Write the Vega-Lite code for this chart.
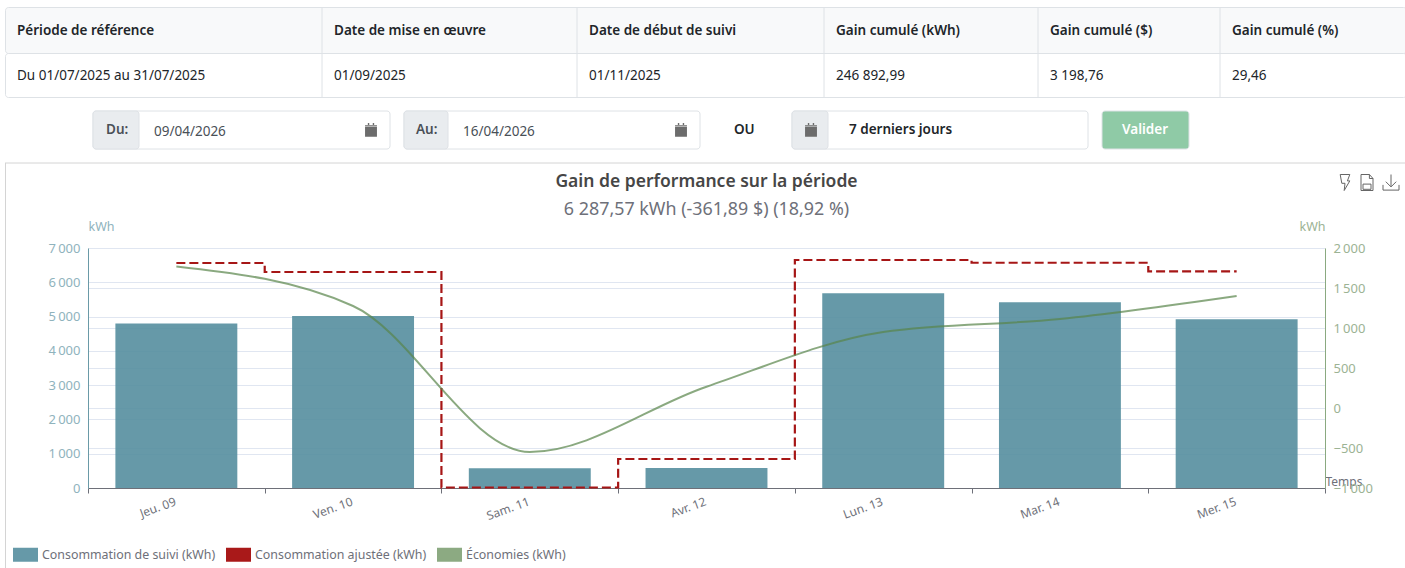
{
"$schema":"https://vega.github.io/schema/vega-lite/v6.json",
"padding":{"left":4,"top":6,"right":0,"bottom":0},
"background":"#ffffff",
"bounds":"flush",
"spacing":0,
"resolve":{"scale":{"color":"independent","shape":"independent"}},
"config":{"view":{"stroke":null},"font":"Noto Sans","text":{"font":"Noto Sans"}},
"datasets":{
"table":[
{"col":1,"header":"Période de référence","value":"Du 01/07/2025 au 31/07/2025"},
{"col":2,"header":"Date de mise en œuvre","value":"01/09/2025"},
{"col":3,"header":"Date de début de suivi","value":"01/11/2025"},
{"col":4,"header":"Gain cumulé (kWh)","value":"246 892,99"},
{"col":5,"header":"Gain cumulé ($)","value":"3 198,76"},
{"col":6,"header":"Gain cumulé (%)","value":"29,46"}],
"days":[
{"day":"Jeu. 09","suivi":4798,"ajustee":6562,"economies":1769},
{"day":"Ven. 10","suivi":5017,"ajustee":6300,"economies":1275},
{"day":"Sam. 11","suivi":575,"ajustee":15,"economies":-550},
{"day":"Avr. 12","suivi":583,"ajustee":846,"economies":266},
{"day":"Lun. 13","suivi":5680,"ajustee":6650,"economies":950},
{"day":"Mar. 14","suivi":5415,"ajustee":6570,"economies":1112},
{"day":"Mer. 15","suivi":4920,"ajustee":6320,"economies":1400}],
"one":[{"n":1}]
},
"vconcat":[
 {"width":1401,"height":46,"view":{"fill":"#f8f9fa","stroke":"#dee2e6","cornerRadius":3},"data":{"name":"table"},
  "layer":[
   {"transform":[{"filter":"datum.col > 1"}],"mark":{"type":"rule","color":"#dee2e6","xOffset":-12},
    "encoding":{"x":{"field":"col","type":"quantitative","axis":null,"scale":{"domain":[1,2,3,4,5,6],"range":[12,329,584,831,1045,1227]}}}},
   {"mark":{"type":"text","align":"left","fontSize":13.5,"fontWeight":600,"color":"#212529","font":"Noto Sans","dy":1},
    "encoding":{"x":{"field":"col","type":"quantitative","axis":null,"scale":{"domain":[1,2,3,4,5,6],"range":[12,329,584,831,1045,1227]}},"text":{"field":"header"}}}
  ]},
 {"width":1401,"height":44,"view":{"fill":"#ffffff","stroke":"#dee2e6","cornerRadius":3},"data":{"name":"table"},
  "layer":[
   {"transform":[{"filter":"datum.col > 1"}],"mark":{"type":"rule","color":"#dee2e6","xOffset":-12},
    "encoding":{"x":{"field":"col","type":"quantitative","axis":null,"scale":{"domain":[1,2,3,4,5,6],"range":[12,329,584,831,1045,1227]}}}},
   {"mark":{"type":"text","align":"left","fontSize":13.5,"color":"#212529","font":"Noto Sans","dy":1},
    "encoding":{"x":{"field":"col","type":"quantitative","axis":null,"scale":{"domain":[1,2,3,4,5,6],"range":[12,329,584,831,1045,1227]}},"text":{"field":"value"}}}
  ]},
{"width":1401,"height":66,
 "resolve":{"scale":{"color":"independent"}},
 "layer":[
  {"data":{"values":[
    {"kind":"box","from":0,"to":5},{"kind":"box","from":6,"to":11},{"kind":"box","from":13,"to":17},
    {"kind":"addon","from":0,"to":2},{"kind":"addon","from":6,"to":8},{"kind":"addon","from":13,"to":15},
    {"kind":"button","from":18,"to":20}]},
   "mark":{"type":"rect","cornerRadius":3,"stroke":"#dee2e6","strokeWidth":1},
   "encoding":{
    "x":{"field":"from","type":"quantitative","axis":null,"scale":{"domain":[0,1,2,3,4,5,6,7,8,9,10,11,12,13,14,15,16,17,18,19,20],"range":[88,101,134,149,366,385,399,411,443,458,676,695,729,787,806,823,844,1083,1097,1117,1184]}},
    "x2":{"field":"to"},
    "y":{"datum":0,"type":"quantitative","axis":null,"scale":{"domain":[0,1],"range":[52,14]}},
    "y2":{"datum":1},
    "color":{"field":"kind","type":"nominal","legend":null,"scale":{"domain":["box","addon","button"],"range":["#ffffff","#e9ecef","#8fcaa6"]}}}},
  {"data":{"values":[{"x":3,"t":"09/04/2026"},{"x":9,"t":"16/04/2026"}]},
   "mark":{"type":"text","align":"left","fontSize":13.5,"color":"#495057","dy":2},
   "encoding":{"x":{"field":"x","type":"quantitative"},"text":{"field":"t"}}},
  {"data":{"values":[{"x":1,"t":"Du:","k":"a"},{"x":7,"t":"Au:","k":"a"},{"x":12,"t":"OU","k":"b"},{"x":16,"t":"7 derniers jours","k":"b"},{"x":19,"t":"Valider","k":"c"}]},
   "mark":{"type":"text","align":"left","fontSize":13.5,"fontWeight":600},
   "encoding":{"x":{"field":"x","type":"quantitative"},"text":{"field":"t"},
    "color":{"field":"k","type":"nominal","legend":null,"scale":{"domain":["a","b","c"],"range":["#495057","#212529","#ffffff"]}}}},
  {"data":{"values":[{"x":4},{"x":10},{"x":14}]},
   "mark":{"type":"point","filled":true,"color":"#6c6c6c","opacity":1,"size":196,"shape":"M-0.85,-0.5H0.85V0.95H-0.85Z M-0.85,-0.7H-0.45V-1H-0.25V-0.7H0.25V-1H0.45V-0.7H0.85V-0.62H-0.85Z"},
   "encoding":{"x":{"field":"x","type":"quantitative"}}}
 ]},
 {"width":1401,"height":85,
  "layer":[
   {"data":{"name":"one"},"mark":{"type":"rule","color":"#d4d4d4"},"encoding":{"y":{"datum":1,"type":"quantitative","axis":null,"scale":{"domain":[0,1]}}}},
   {"data":{"name":"one"},"mark":{"type":"rule","color":"#d4d4d4"},"encoding":{"x":{"datum":0,"type":"quantitative","axis":null,"scale":{"domain":[0,1,2,3],"range":[0.5,1340,1362,1386]}}}},
   {"data":{"values":[{"i":1,"icon":"foudre"},{"i":2,"icon":"csv"},{"i":3,"icon":"export"}]},
    "mark":{"type":"point","filled":false,"color":"#666666","strokeWidth":1,"opacity":1,"size":256,"yOffset":-23},
    "encoding":{"x":{"field":"i","type":"quantitative"},
     "shape":{"field":"icon","type":"nominal","legend":null,"scale":{"domain":["foudre","csv","export"],"range":[
      "M-0.6,-1H0.6L0.3,-0.2H0.6L-0.1,1L0,0.1H-0.4Z",
      "M-0.75,-1H0.3L0.75,-0.5V1H-0.75Z M0.3,-1V-0.5H0.75 M-0.5,0.2H0.5V0.85H-0.5Z",
      "M0,-1V0.5 M-0.65,-0.1L0,0.55L0.65,-0.1 M-1,0.3V0.95H1V0.3"]}}}}
  ]},
 {"bounds":"flush","spacing":0,"resolve":{"scale":{"color":"independent"}},"hconcat":[
  {"width":83,"height":320,"data":{"name":"one"},"mark":{"type":"rule","color":"#d4d4d4"},"encoding":{"x":{"datum":0,"type":"quantitative","axis":null,"scale":{"domain":[0,1],"range":[0.5,83]}}}},
  {"width":1237,"height":240,"data":{"name":"days"},
   "title":{"text":"Gain de performance sur la période","subtitle":"6 287,57 kWh (-361,89 $) (18,92 %)","anchor":"middle","frame":"group","offset":1,"fontSize":17.5,"fontWeight":600,"color":"#464646","subtitleFontSize":17.9,"subtitleColor":"#6e7079","subtitlePadding":11,"font":"Noto Sans","subtitleFont":"Noto Sans"},
   "resolve":{"scale":{"y":"independent"}},
   "layer":[
    {"mark":{"type":"bar","opacity":0.9,"width":{"band":0.69}},
     "encoding":{
      "x":{"field":"day","type":"nominal","sort":null,"title":"Temps",
       "scale":{"paddingInner":0,"paddingOuter":0},
       "axis":{"tickBand":"extent","labelAngle":-20,"labelAlign":"right","labelBaseline":"top","labelPadding":3,"labelOffset":-3,"labelFontSize":12,"labelColor":"#6e7079","labelOverlap":false,"tickColor":"#6e7079","tickSize":5,"domainColor":"#6e7079","grid":false,"titleColor":"#6e7079","titleFontSize":12,"titleFontWeight":"normal","titleX":1237,"titleY":-7,"titleAlign":"left","titleBaseline":"middle","titleAnchor":"start"}},
      "y":{"field":"suivi","type":"quantitative","title":"kWh","scale":{"domain":[0,7000],"nice":false},
       "axis":{"values":[0,1000,2000,3000,4000,5000,6000,7000],"labelExpr":"replace(format(datum.value, ','), ',', '\u202f')","labelColor":"#8fb3bd","labelFontSize":13,"labelPadding":8,"ticks":false,"domainColor":"#6a9aa7","gridColor":"#e0e6f1","grid":true,"titleAngle":0,"titleAlign":"left","titleBaseline":"middle","titleX":0,"titleY":-22,"titleColor":"#8fb3bd","titleFontSize":12.5,"titleFontWeight":"normal"}},
      "color":{"datum":"Consommation de suivi (kWh)","type":"nominal",
       "scale":{"domain":["Consommation de suivi (kWh)","Consommation ajustée (kWh)","Économies (kWh)"],"range":["#558e9e","#a00000","#7fa174"]},
       "legend":{"title":null,"orient":"none","legendX":-75,"legendY":294,"direction":"horizontal","columns":3,"symbolType":"M-1,-0.56H1V0.56H-1Z","symbolSize":625,"symbolStrokeWidth":0,"labelFontSize":12.4,"labelColor":"#6e7079","labelOffset":4,"columnPadding":10,"symbolOpacity":0.9,"labelLimit":300}}}},
    {"mark":{"type":"line","interpolate":"step","color":"#a61616","strokeWidth":2.2,"strokeDash":[9,4]},
     "encoding":{"x":{"field":"day","type":"nominal","sort":null},
      "y":{"field":"ajustee","type":"quantitative","axis":null,"scale":{"domain":[0,7000],"nice":false}}}},
    {"mark":{"type":"line","interpolate":"monotone","color":"#59844a","opacity":0.7,"strokeWidth":2},
     "encoding":{"x":{"field":"day","type":"nominal","sort":null},
      "y":{"field":"economies","type":"quantitative","title":"kWh","scale":{"domain":[-1000,2000],"nice":false},
       "axis":{"orient":"right","values":[-1000,-500,0,500,1000,1500,2000],"labelExpr":"replace(format(datum.value, ','), ',', '\u202f')","labelColor":"#9cb394","labelFontSize":13,"labelPadding":8,"ticks":false,"domainColor":"#8aa980","gridColor":"#e0e6f1","grid":true,"titleAngle":0,"titleAlign":"right","titleBaseline":"middle","titleX":0,"titleY":-22,"titleColor":"#9cb394","titleFontSize":12.5,"titleFontWeight":"normal"}}}}
   ]}
 ]}
]
}
